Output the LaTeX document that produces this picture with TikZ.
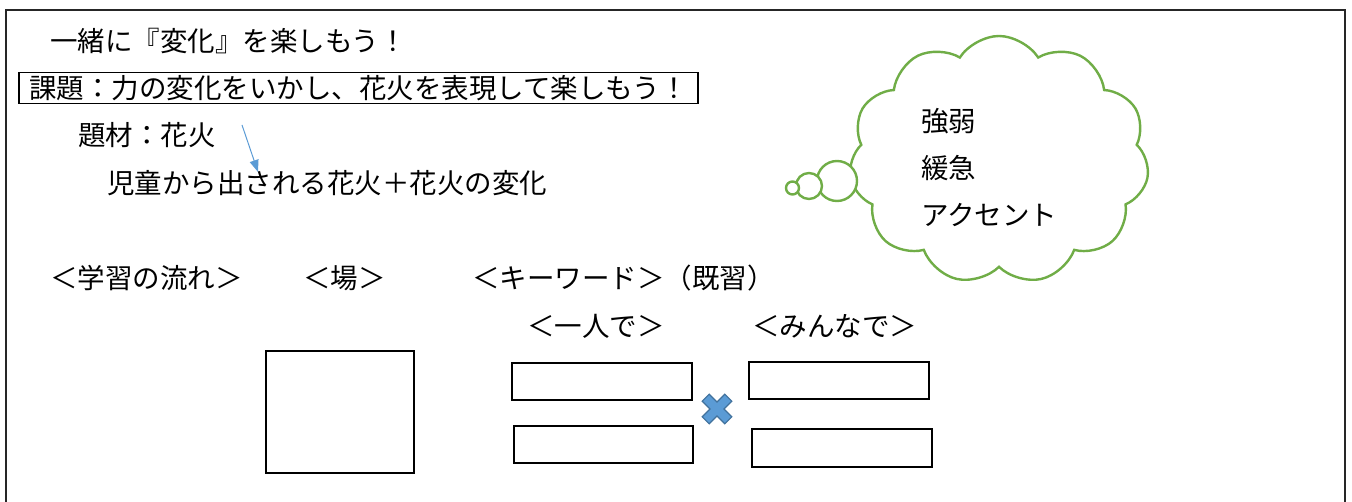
\documentclass[tikz,border=0pt]{standalone}
\usepackage{fontspec}
\setmainfont{Noto Sans CJK JP}
\usetikzlibrary{shapes.symbols,arrows.meta}
\definecolor{cloudgreen}{HTML}{70AD47}
\definecolor{xblue}{HTML}{5B9BD5}
\definecolor{xblueline}{HTML}{41719C}
\begin{document}
\begin{tikzpicture}[x=1pt,y=-1pt,
  txt/.style={anchor=west,inner sep=0pt,font=\fontsize{27.5}{31}\selectfont},
  wbox/.style={draw=black,line width=2.6pt,fill=white},
  bubble/.style={draw=cloudgreen,line width=2.4pt,fill=white}]
\useasboundingbox (0,0) rectangle (1352,502);
% outer frame (bottom open)
\draw[line width=1.3pt,black!85] (6,503) -- (6,10) -- (1345,10) -- (1345,503);
% texts
\node[txt] (t1) at (50,41) {一緒に『変化』を楽しもう！};
\node[txt,draw=black,line width=1.8pt,minimum width=679pt,minimum height=31pt] (t2) at (18,88) {課題：力の変化をいかし、花火を表現して楽しもう！};
\node[txt] (t3) at (78,135) {題材：花火};
\node[txt] (t4) at (107,183) {児童から出される花火＋花火の変化};
\coordinate (a1) at (242,125);
\coordinate (a2) at (258,172);
\draw[xblue,line width=1pt,-{Triangle[length=12pt,width=9pt]}] (a1) -- (a2);
% thought bubble
\node[bubble,cloud,cloud puffs=11,cloud puff arc=115,minimum width=300pt,minimum height=248pt,inner sep=0pt] (cl) at (999,160) {};
\draw[bubble] (837,181) circle[radius=20];
\draw[bubble] (809,186) circle[radius=13];
\draw[bubble] (792.5,188) circle[radius=6.5];
\node[txt] (c1) at (921,121) {強弱};
\node[txt] (c2) at (921,168) {緩急};
\node[txt] (c3) at (921,215) {アクセント};
% headers
\node[txt] (h1) at (50,278) {＜学習の流れ＞};
\node[txt] (h2) at (303,278) {＜場＞};
\node[txt] (h3) at (472,278) {＜キーワード＞（既習）};
\node[txt] (h4) at (527,326) {＜一人で＞};
\node[txt] (h5) at (752,326) {＜みんなで＞};
% boxes
\draw[wbox] (266,351) rectangle (414,473);
\draw[wbox] (512,363) rectangle (692,400);
\draw[wbox] (514,426) rectangle (693,463);
\draw[wbox] (749,362) rectangle (929,399);
\draw[wbox] (752,429) rectangle (932,467);
% multiply mark
\draw[fill=xblue,draw=xblueline,line width=1.2pt,shift={(717,409)},rotate=45]
  (-5,-16) -- (5,-16) -- (5,-5) -- (16,-5) -- (16,5) -- (5,5) -- (5,16) -- (-5,16) -- (-5,5) -- (-16,5) -- (-16,-5) -- (-5,-5) -- cycle;
\end{tikzpicture}
\end{document}
